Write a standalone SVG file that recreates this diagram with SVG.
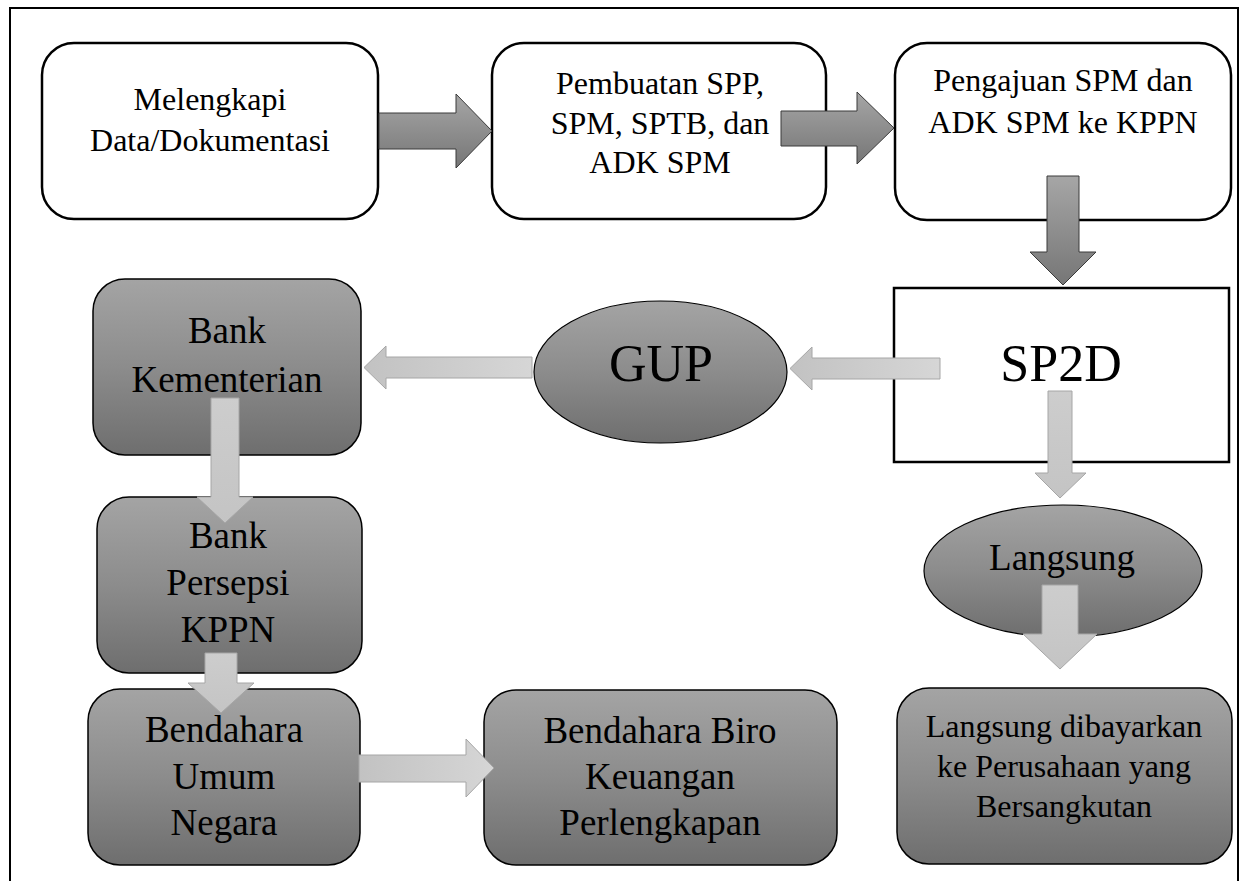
<svg xmlns="http://www.w3.org/2000/svg" width="1241" height="881" viewBox="0 0 1241 881">
<defs>
<linearGradient id="gBox" x1="0" y1="0" x2="0" y2="1">
<stop offset="0" stop-color="#a4a4a4"/>
<stop offset="0.5" stop-color="#8c8c8c"/>
<stop offset="1" stop-color="#6e6e6e"/>
</linearGradient>
<linearGradient id="gDark" x1="0" y1="0" x2="0" y2="1">
<stop offset="0" stop-color="#a6a6a6"/>
<stop offset="1" stop-color="#767676"/>
</linearGradient>
<linearGradient id="gLightH" x1="0" y1="0" x2="1" y2="0">
<stop offset="0" stop-color="#c2c2c2"/>
<stop offset="1" stop-color="#d6d6d6"/>
</linearGradient>
<linearGradient id="gLightV" x1="0" y1="0" x2="0" y2="1">
<stop offset="0" stop-color="#cdcdcd"/>
<stop offset="1" stop-color="#c4c4c4"/>
</linearGradient>
</defs>
<style>
.t{font-family:"Liberation Serif","Times New Roman",serif;fill:#000;text-anchor:middle}
.s32{font-size:32px}
.s37{font-size:37px}
.s52{font-size:52px}
.wbox{fill:#fff;stroke:#000;stroke-width:2.5}
.gbox{fill:url(#gBox);stroke:#000;stroke-width:1.5}
.ell{fill:url(#gBox);stroke:#000;stroke-width:1.2}
.dark{fill:url(#gDark);stroke:#3a3a3a;stroke-width:1}
.lh{fill:url(#gLightH);stroke:#a6a6a6;stroke-width:1}
.lv{fill:url(#gLightV);stroke:#a6a6a6;stroke-width:1}
</style>
<rect width="1241" height="881" fill="#fff"/>
<path d="M10,890 V8 H1238 V890" fill="none" stroke="#000" stroke-width="2"/>

<g id="melengkapi">
<rect class="wbox" x="42" y="43" width="336" height="176" rx="32"/>
<text class="t s32" x="210" y="110">Melengkapi</text>
<text class="t s32" x="210" y="151">Data/Dokumentasi</text>
</g>
<g id="pembuatan">
<rect class="wbox" x="492" y="43" width="334" height="176" rx="32"/>
<text class="t s32" x="660" y="94">Pembuatan SPP,</text>
<text class="t s32" x="660" y="134">SPM, SPTB, dan</text>
<text class="t s32" x="660" y="173">ADK SPM</text>
</g>
<g id="pengajuan">
<rect class="wbox" x="895" y="43" width="336" height="177" rx="32"/>
<text class="t s32" x="1063" y="91">Pengajuan SPM dan</text>
<text class="t s32" x="1063" y="133">ADK SPM ke KPPN</text>
</g>
<g id="sp2d">
<rect class="wbox" x="894" y="288" width="335" height="174"/>
<text class="t s52" x="1061" y="381">SP2D</text>
</g>
<g id="gup">
<ellipse class="ell" cx="660.5" cy="372" rx="126.5" ry="71"/>
<text class="t s52" x="661" y="381">GUP</text>
</g>
<g id="bank-kementerian">
<rect class="gbox" x="93" y="279" width="268" height="176" rx="32"/>
<text class="t s37" x="227" y="343">Bank</text>
<text class="t s37" x="227" y="392">Kementerian</text>
</g>
<g id="bank-persepsi">
<rect class="gbox" x="97" y="497" width="265" height="176" rx="32"/>
<text class="t s37" x="228" y="548">Bank</text>
<text class="t s37" x="228" y="595">Persepsi</text>
<text class="t s37" x="228" y="642">KPPN</text>
</g>
<g id="bendahara-umum">
<rect class="gbox" x="88" y="689" width="272" height="176" rx="32"/>
<text class="t s37" x="224" y="742">Bendahara</text>
<text class="t s37" x="224" y="789">Umum</text>
<text class="t s37" x="224" y="835">Negara</text>
</g>
<g id="bendahara-biro">
<rect class="gbox" x="484" y="690" width="353" height="175" rx="32"/>
<text class="t s37" x="660" y="743">Bendahara Biro</text>
<text class="t s37" x="660" y="789">Keuangan</text>
<text class="t s37" x="660" y="835">Perlengkapan</text>
</g>
<g id="langsung">
<ellipse class="ell" cx="1063" cy="571" rx="139" ry="66"/>
<text class="t s37" x="1062" y="570">Langsung</text>
</g>
<g id="langsung-dibayarkan">
<rect class="gbox" x="897" y="688" width="335" height="176" rx="32"/>
<text class="t s32" x="1064" y="737">Langsung dibayarkan</text>
<text class="t s32" x="1064" y="777">ke Perusahaan yang</text>
<text class="t s32" x="1064" y="817">Bersangkutan</text>
</g>

<g id="connectors">
<polygon class="dark" points="379,113 456,113 456,94 492,131 456,168 456,149 379,149"/>
<polygon class="dark" points="781,111 857,111 857,92 894,128 857,164 857,146 781,146"/>
<polygon class="dark" points="1047,176 1079,176 1079,252 1096,252 1063,285 1030,252 1047,252"/>
<polygon class="lh" points="940,358 812,358 812,347 790,368.5 812,390 812,379 940,379"/>
<polygon class="lh" points="532,357 386,357 386,346 364,367.5 386,389 386,378 532,378"/>
<polygon class="lv" points="211,398 239,398 239,497 253,497 225,523 197,497 211,497"/>
<polygon class="lv" points="205,653 237,653 237,683 254,683 221,713 188,683 205,683"/>
<polygon class="lh" points="359,755 466,755 466,739 494,768 466,797 466,782 359,782"/>
<polygon class="lv" points="1048,391 1072,391 1072,473 1086,473 1060,498 1035,473 1048,473"/>
<polygon class="lv" points="1042,585 1078,585 1078,634 1097,634 1060,669 1023,634 1042,634"/>
</g>
</svg>
